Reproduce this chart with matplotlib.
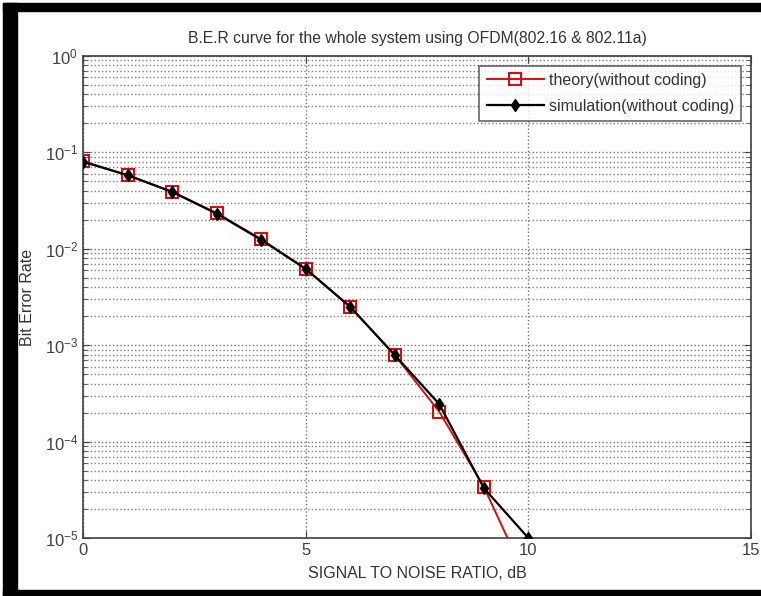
import matplotlib
matplotlib.use("Agg")
import matplotlib.pyplot as plt
from matplotlib.patches import Rectangle
from matplotlib.ticker import LogLocator, NullFormatter, FixedLocator

snr_theory = [0, 1, 2, 3, 4, 5, 6, 7, 8, 9, 10]
ber_theory = [0.081, 0.058, 0.039, 0.0235, 0.0126, 0.0062, 0.0025, 0.00079, 0.000204, 3.4e-5, 3.4e-6]
snr_sim = [0, 1, 2, 3, 4, 5, 6, 7, 8, 9, 10]
ber_sim = [0.080, 0.058, 0.039, 0.0232, 0.0124, 0.0062, 0.0025, 0.00079, 0.000245, 3.3e-5, 1.0e-5]
xticks = [0, 5, 10, 15]
yticks = [1e-5, 1e-4, 1e-3, 1e-2, 1e-1, 1e0]
ytick_labels = ["$10^{-5}$", "$10^{-4}$", "$10^{-3}$", "$10^{-2}$", "$10^{-1}$", "$10^{0}$"]

plt.rcParams['font.family'] = ['Liberation Sans', 'DejaVu Sans']
plt.rcParams['mathtext.fontset'] = 'custom'
plt.rcParams['mathtext.rm'] = 'Liberation Sans'
plt.rcParams['mathtext.it'] = 'Liberation Sans'

fig = plt.figure(figsize=(7.61, 5.96), dpi=100)
fig.patch.set_facecolor('white')
ax = fig.add_axes([83/761, (596-538)/596, (751-83)/761, (538-56)/596])

ax.plot(snr_theory, ber_theory, color='#d01010', lw=1.4, marker='s', ms=9,
        mfc='none', mec='#d01010', mew=1.5, label='theory(without coding)', zorder=3)
ax.plot(snr_sim, ber_sim, color='black', lw=1.6, marker='d', ms=6,
        mfc='black', mec='black', label='simulation(without coding)', zorder=4)

ax.set_yscale('log')
ax.set_xlim(0, 15)
ax.set_ylim(1e-5, 1e0)
ax.xaxis.set_major_locator(FixedLocator(xticks))
ax.set_xticklabels([str(t) for t in xticks])
ax.yaxis.set_major_locator(FixedLocator(yticks))
ax.set_yticklabels(ytick_labels)
ax.yaxis.set_minor_locator(LogLocator(base=10, subs=range(2, 10), numticks=20))
ax.yaxis.set_minor_formatter(NullFormatter())

ax.grid(True, which='major', linestyle=':', color='#707070', lw=1.0)
ax.grid(True, which='minor', axis='y', linestyle=':', color='#808080', lw=1.0)

ax.tick_params(which='both', direction='in', top=True, right=True, colors='#404040',
               labelcolor='#404040', labelsize=12)
ax.tick_params(which='major', length=5)
ax.tick_params(which='minor', length=3)
for s in ax.spines.values():
    s.set_color('#404040')
    s.set_linewidth(1.2)

ax.set_title('B.E.R curve for the whole system using OFDM(802.16 & 802.11a)',
             fontsize=11.3, color='#333333', pad=9)
ax.set_xlabel('SIGNAL TO NOISE RATIO, dB', fontsize=11.5, color='#333333', labelpad=6)
ax.set_ylabel('Bit Error Rate', fontsize=11.5, color='#333333', labelpad=7)

leg = ax.legend(loc='upper right', fontsize=11.5, frameon=True, fancybox=False,
                edgecolor='#404040', handlelength=3.6, borderaxespad=0.6,
                labelspacing=0.7, handletextpad=0.3, borderpad=0.45)
leg.get_frame().set_linewidth(1.2)
for t in leg.get_texts():
    t.set_color('#333333')

# black frame around the figure
fig.add_artist(Rectangle((3/761, 0), 14/761, 593/596, transform=fig.transFigure,
                         color='black', zorder=10))
fig.add_artist(Rectangle((3/761, 585/596), 758/761, 8/596, transform=fig.transFigure,
                         color='black', zorder=10))
fig.add_artist(Rectangle((3/761, 0), 758/761, 6/596, transform=fig.transFigure,
                         color='black', zorder=10))

fig.savefig('out.png', dpi=100)
